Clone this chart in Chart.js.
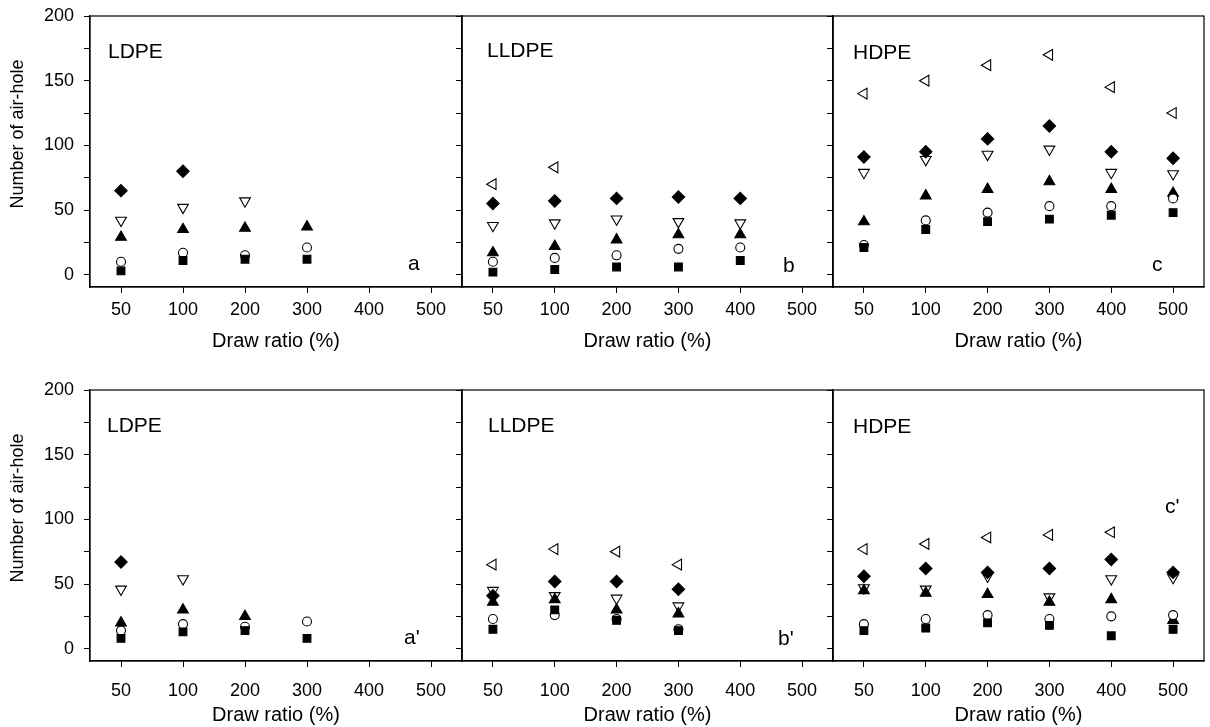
<!DOCTYPE html>
<html><head><meta charset="utf-8">
<script src="https://cdn.jsdelivr.net/npm/chart.js@4"></script>
<style>
html,body{margin:0;padding:0;background:#fff;}
body{width:1210px;height:727px;position:relative;overflow:hidden;}
canvas{position:absolute;}
</style></head><body>
<script>
// ---------- data ----------
const categories = ['50', '100', '200', '300', '400', '500'];
const yTicks = [0, 25, 50, 75, 100, 125, 150, 175, 200];
const yTickLabels = ['0', '', '50', '', '100', '', '150', '', '200'];
const xTitle = 'Draw ratio (%)';
const yTitle = 'Number of air-hole';

// series order: filled square, open circle, filled triangle, filled diamond, open down-triangle, open left-triangle
// (a) LDPE
const a_square  = [3, 11, 12, 12, null, null];
const a_circle  = [10, 17, 15, 21, null, null];
const a_tri     = [29, 35, 36, 37, null, null];
const a_diamond = [65, 80, null, null, null, null];
const a_down    = [42, 52, 57, null, null, null];
const a_left    = [null, null, null, null, null, null];
// (b) LLDPE
const b_square  = [2, 4, 6, 6, 11, null];
const b_circle  = [10, 13, 15, 20, 21, null];
const b_tri     = [17, 22, 27, 31, 31, null];
const b_diamond = [55, 57, 59, 60, 59, null];
const b_down    = [38, 40, 43, 41, 40, null];
const b_left    = [70, 83, null, null, null, null];
// (c) HDPE
const c_square  = [21, 35, 41, 43, 46, 48];
const c_circle  = [23, 42, 48, 53, 53, 59];
const c_tri     = [41, 61, 66, 72, 66, 63];
const c_diamond = [91, 95, 105, 115, 95, 90];
const c_down    = [79, 89, 93, 97, 79, 78];
const c_left    = [140, 150, 162, 170, 145, 125];
// (a') LDPE
const a2_square  = [8, 13, 14, 8, null, null];
const a2_circle  = [14, 19, 17, 21, null, null];
const a2_tri     = [20, 30, 25, null, null, null];
const a2_diamond = [67, null, null, null, null, null];
const a2_down    = [46, 54, null, null, null, null];
const a2_left    = [null, null, null, null, null, null];
// (b') LLDPE
const b2_square  = [15, 30, 22, 14, null, null];
const b2_circle  = [23, 26, 23, 15, null, null];
const b2_tri     = [36, 38, 30, 27, null, null];
const b2_diamond = [41, 52, 52, 46, null, null];
const b2_down    = [45, 41, 39, 33, null, null];
const b2_left    = [65, 77, 75, 65, null, null];
// (c') HDPE
const c2_square  = [14, 16, 20, 18, 10, 15];
const c2_circle  = [19, 23, 26, 23, 25, 26];
const c2_tri     = [45, 43, 42, 36, 38, 22];
const c2_diamond = [56, 62, 59, 62, 69, 59];
const c2_down    = [47, 46, 56, 40, 54, 55];
const c2_left    = [77, 81, 86, 88, 90, null];

// ---------- styles / layout ----------
const FONT = "'Liberation Sans', Arial, Helvetica, sans-serif";
const markerStyles = [
  {style: 'rect',     rot: 0,   r: 5.5, filled: true},
  {style: 'circle',   rot: 0,   r: 4.5, filled: false},
  {style: 'triangle', rot: 0,   r: 6.2, filled: true},
  {style: 'rectRot',  rot: 0,   r: 6.2, filled: true},
  {style: 'triangle', rot: 180, r: 6.2, filled: false},
  {style: 'triangle', rot: 270, r: 6.2, filled: false}
];
const colX = [90, 462, 833];
const colW = [372, 371, 371];
const rowY = [16, 390];
const rowH = 271;
const rowHx = [72, 66];
const rowTickPad = [6, 13];
const rowTitlePad = [6, 0];
const rowYTitleCy = [134, 508];

const panels = [
  {row: 0, col: 0, name: 'LDPE',  letter: 'a',  tx: 18, ty: 42, lx: 318, ly: 254, series: [a_square, a_circle, a_tri, a_diamond, a_down, a_left]},
  {row: 0, col: 1, name: 'LLDPE', letter: 'b',  tx: 25, ty: 41, lx: 321, ly: 256, series: [b_square, b_circle, b_tri, b_diamond, b_down, b_left]},
  {row: 0, col: 2, name: 'HDPE',  letter: 'c',  tx: 20, ty: 43, lx: 319, ly: 255, series: [c_square, c_circle, c_tri, c_diamond, c_down, c_left]},
  {row: 1, col: 0, name: 'LDPE',  letter: "a'", tx: 17, ty: 42, lx: 314, ly: 254, series: [a2_square, a2_circle, a2_tri, a2_diamond, a2_down, a2_left]},
  {row: 1, col: 1, name: 'LLDPE', letter: "b'", tx: 26, ty: 42, lx: 316, ly: 255, series: [b2_square, b2_circle, b2_tri, b2_diamond, b2_down, b2_left]},
  {row: 1, col: 2, name: 'HDPE',  letter: "c'", tx: 20, ty: 43, lx: 332, ly: 123, series: [c2_square, c2_circle, c2_tri, c2_diamond, c2_down, c2_left]}
];

const framePlugin = {
  id: 'frame',
  beforeDatasetsDraw(chart) {
    const {ctx, chartArea: a} = chart;
    ctx.save();
    ctx.strokeStyle = '#000';
    ctx.lineWidth = 1.2;
    ctx.strokeRect(a.left, a.top, a.right - a.left, a.bottom - a.top);
    ctx.restore();
  }
};

const textPlugin = {
  id: 'panelText',
  afterDraw(chart, args, o) {
    const {ctx, chartArea: a} = chart;
    ctx.save();
    ctx.fillStyle = '#000';
    ctx.textBaseline = 'alphabetic';
    ctx.textAlign = 'left';
    ctx.font = '21px ' + FONT;
    ctx.fillText(o.name, a.left + o.tx, a.top + o.ty);
    ctx.fillText(o.letter, a.left + o.lx, a.top + o.ly);
    if (o.yTitle) {
      ctx.translate(18, o.yTitleCy);
      ctx.rotate(-Math.PI / 2);
      ctx.textAlign = 'center';
      ctx.textBaseline = 'middle';
      ctx.font = '18px ' + FONT;
      ctx.fillText(o.yTitle, 0, 0);
    }
    ctx.restore();
  }
};

function makePanel(p) {
  const first = p.col === 0;
  const Wy = first ? 90 : 12;
  const padTop = 14, padRight = 12;
  const pw = colW[p.col], ph = rowH, hx = rowHx[p.row];
  const W = pw + Wy + padRight, H = ph + padTop + hx;
  const left = colX[p.col] - Wy, top = rowY[p.row] - padTop;
  const c = document.createElement('canvas');
  c.width = W; c.height = H;
  c.style.left = left + 'px'; c.style.top = top + 'px';
  c.style.width = W + 'px'; c.style.height = H + 'px';
  document.body.appendChild(c);

  const datasets = p.series.map((vals, i) => {
    const m = markerStyles[i];
    return {
      data: vals,
      showLine: false,
      pointStyle: m.style,
      pointRotation: m.rot,
      pointRadius: m.r,
      pointHoverRadius: m.r,
      pointBackgroundColor: m.filled ? '#000' : '#fff',
      pointBorderColor: '#000',
      pointBorderWidth: 1.1
    };
  });

  new Chart(c, {
    type: 'line',
    data: {labels: categories, datasets},
    options: {
      responsive: false,
      animation: false,
      devicePixelRatio: 1,
      layout: {padding: {top: padTop, right: padRight, left: 0, bottom: 0}},
      plugins: {
        legend: {display: false},
        tooltip: {enabled: false},
        panelText: {
          name: p.name, letter: p.letter, tx: p.tx, ty: p.ty, lx: p.lx, ly: p.ly,
          yTitle: first ? yTitle : null,
          yTitleCy: rowYTitleCy[p.row] - top
        }
      },
      scales: {
        x: {
          type: 'category',
          offset: true,
          afterFit: s => { s.height = hx; s.paddingLeft = 0; s.paddingRight = 0; },
          grid: {drawOnChartArea: false, tickLength: 6, tickColor: '#000', offset: false},
          border: {display: true, color: '#000', width: 1.2},
          ticks: {autoSkip: false, maxRotation: 0, padding: rowTickPad[p.row], color: '#000', font: {family: FONT, size: 18}},
          title: {display: true, text: xTitle, color: '#000', font: {family: FONT, size: 20}, padding: {top: 0, bottom: rowTitlePad[p.row]}}
        },
        y: {
          type: 'linear',
          min: -9.5,
          max: 200,
          afterBuildTicks: s => { s.ticks = yTicks.map(v => ({value: v})); },
          afterFit: s => { s.width = Wy; s.paddingTop = 0; s.paddingBottom = 0; },
          grid: {drawOnChartArea: false, tickLength: 6, tickColor: '#000'},
          border: {display: true, color: '#000', width: 1.2},
          ticks: {display: first, padding: 10, color: '#000', font: {family: FONT, size: 18},
                  callback: (v, i) => yTickLabels[i]}
        }
      }
    },
    plugins: [framePlugin, textPlugin]
  });
}

panels.forEach(makePanel);
</script>
</body></html>
